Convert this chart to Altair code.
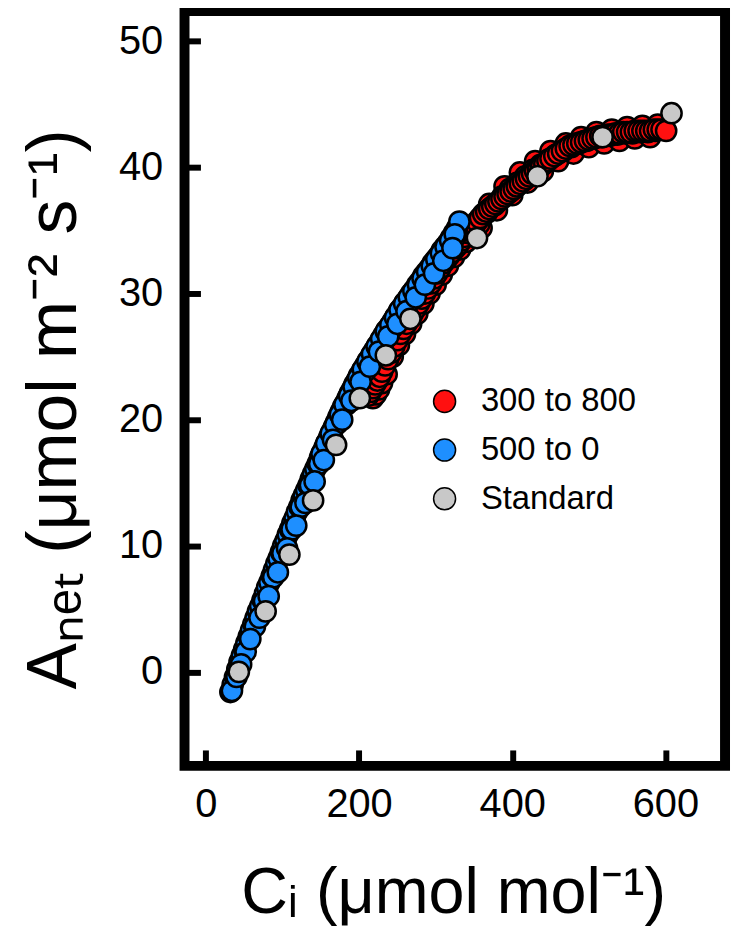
import altair as alt
import pandas as pd

# ---- data ----
series_names = ["300 to 800", "500 to 0", "Standard"]
series_colors = ["#ff1010", "#1e8fff", "#c8c8c8"]

std_ci = [43, 78, 109, 140, 170, 201, 235, 267, 354, 433, 518, 608]
std_a = [0.0, 4.8, 9.3, 13.6, 18.0, 21.7, 25.1, 28.0, 34.4, 39.3, 42.4, 44.3]

blue_ci = [32, 35, 38, 41, 44, 47, 50, 53, 56, 59, 62, 65, 68, 71, 74, 77, 80, 83, 86, 89,
           92, 95, 98, 101, 104, 107, 110, 113, 116, 119, 122, 125, 128, 131, 134, 137, 140,
           143, 146, 149, 152, 155, 158, 161, 164, 167, 170, 173, 176, 179, 182, 185, 188,
           191, 194, 197, 200, 204, 208, 212, 216, 220, 224, 228, 232, 236, 240, 244, 248,
           252, 256, 260, 264, 268, 272, 276, 280, 284, 288, 292, 296, 300, 304, 308, 312,
           316, 320, 324, 328, 331,
           34, 40, 52, 64, 76, 88, 100, 112, 124, 136, 148, 160, 172, 184, 196, 208, 220,
           232, 244, 256, 268, 280, 292, 304, 316, 326,
           151, 157, 163, 169, 175, 181, 187, 193, 199, 205, 211, 217, 223, 229, 235, 241,
           247, 253, 259, 265, 271, 277, 283, 289, 295, 301, 307, 313, 319, 325,
           46, 58, 70, 82, 94, 106, 118, 130, 142, 154, 166, 178, 190, 202, 214, 226, 238,
           250, 262, 274, 286, 298, 310, 322]
blue_a = [-1.6, -1.0, -0.4, 0.2, 0.8, 1.3, 1.8, 2.3, 2.8, 3.3, 3.8, 4.3, 4.8, 5.2, 5.7, 6.2,
          6.7, 7.1, 7.6, 8.1, 8.6, 9.0, 9.5, 10.0, 10.4, 10.9, 11.3, 11.8, 12.2, 12.7, 13.1,
          13.6, 14.0, 14.4, 14.8, 15.3, 15.7, 16.1, 16.5, 17.0, 17.4, 17.8, 18.2, 18.6, 19.0,
          19.4, 19.8, 20.2, 20.6, 21.0, 21.3, 21.7, 22.1, 22.4, 22.8, 23.1, 23.5, 23.9, 24.3,
          24.7, 25.1, 25.5, 25.9, 26.3, 26.7, 27.1, 27.4, 27.8, 28.2, 28.6, 28.9, 29.3, 29.6,
          30.0, 30.3, 30.7, 31.0, 31.4, 31.7, 32.0, 32.4, 32.7, 33.0, 33.4, 33.7, 34.0, 34.4,
          34.8, 35.2, 35.7,
          -1.5, -0.4, 1.6, 3.6, 5.6, 7.5, 9.4, 11.3, 13.1, 14.8, 16.5, 18.1, 19.7, 21.2, 22.6,
          23.8, 25.0, 26.2, 27.3, 28.4, 29.5, 30.5, 31.5, 32.5, 33.5, 34.5,
          17.3, 18.1, 18.9, 19.6, 20.4, 21.2, 21.9, 22.6, 23.3, 24.0, 24.6, 25.2, 25.8, 26.4,
          27.0, 27.5, 28.1, 28.7, 29.2, 29.7, 30.2, 30.7, 31.2, 31.7, 32.2, 32.7, 33.2, 33.7,
          34.2, 34.7,
          0.6, 2.6, 4.3, 6.0, 7.9, 9.8, 11.6, 13.4, 15.1, 16.8, 18.4, 20.0, 21.5, 23.0, 24.2,
          25.4, 26.6, 27.6, 28.6, 29.7, 30.7, 31.6, 32.6, 33.6]

red_ci = [218, 222, 226, 230, 236, 360, 380, 400, 420, 440, 460, 480, 500, 520, 540, 560, 580,
          244, 252, 260, 268, 276, 284, 292, 300, 308, 316, 324, 332, 340, 348,
          370, 390, 410, 430, 450, 470, 490, 510, 530, 550, 570, 590,
          357, 367, 377, 387, 397, 407, 417, 427, 437, 447, 457, 467, 477, 487, 497, 507, 517,
          527, 537, 547, 557, 567, 577, 587,
          212, 215, 218, 221, 224, 227, 230, 234, 238, 242, 246, 250, 254, 258, 262, 266, 270,
          274, 278, 282, 286, 290, 294, 298, 302, 306, 310, 314, 318, 322, 326, 330, 334, 338,
          342, 346, 350, 354, 358, 362, 366, 370, 374, 378, 382, 386, 390, 394, 398, 402, 406,
          410, 414, 418, 422, 426, 430, 434, 438, 442, 446, 450, 455, 460, 465, 470, 475, 480,
          485, 490, 495, 500, 505, 510, 515, 520, 525, 530, 535, 540, 545, 550, 555, 560, 565,
          570, 575, 580, 585, 590, 595, 601]
red_a = [21.7, 22.0, 22.4, 22.9, 23.6, 35.2, 36.6, 37.8, 38.8, 39.7, 40.5, 41.1, 41.6, 41.9,
         42.1, 42.3, 42.4,
         25.0, 25.9, 26.8, 27.6, 28.4, 29.2, 30.0, 30.7, 31.5, 32.2, 32.9, 33.5, 34.1, 34.7,
         37.1, 38.5, 39.6, 40.5, 41.3, 41.9, 42.4, 42.8, 43.0, 43.2, 43.3, 43.4,
         35.5, 36.4, 37.0, 37.7, 38.3, 38.8, 39.3, 39.8, 40.2, 40.6, 41.0, 41.3, 41.6, 41.9,
         42.1, 42.3, 42.4, 42.5, 42.6, 42.7, 42.7, 42.8, 42.8, 42.9,
         21.9, 22.2, 22.5, 22.8, 23.1, 23.4, 23.8, 24.3, 24.8, 25.3, 25.8, 26.3, 26.8, 27.2,
         27.6, 28.0, 28.4, 28.8, 29.2, 29.6, 30.0, 30.4, 30.8, 31.2, 31.6, 32.0, 32.4, 32.7,
         33.0, 33.3, 33.6, 33.9, 34.2, 34.5, 34.8, 35.1, 35.4, 35.7, 36.0, 36.3, 36.5, 36.7,
         36.9, 37.1, 37.3, 37.5, 37.7, 37.9, 38.1, 38.3, 38.5, 38.7, 38.9, 39.1, 39.3, 39.5,
         39.7, 39.9, 40.1, 40.3, 40.5, 40.7, 40.9, 41.1, 41.3, 41.5, 41.7, 41.8, 41.9, 42.0,
         42.1, 42.2, 42.3, 42.4, 42.5, 42.5, 42.6, 42.6, 42.7, 42.7, 42.8, 42.8, 42.8, 42.9,
         42.9, 42.9, 42.9, 42.9, 43.0, 43.0, 43.0, 42.9, 42.9]

x_ticks = [0, 200, 400, 600]
y_ticks = [0, 10, 20, 30, 40, 50]

# ---- table ----
rows = []
for c, a in zip(red_ci, red_a):
    rows.append({"ci": c, "a": a, "series": series_names[0]})
for c, a in zip(blue_ci, blue_a):
    rows.append({"ci": c, "a": a, "series": series_names[1]})
for c, a in zip(std_ci, std_a):
    rows.append({"ci": c, "a": a, "series": series_names[2]})
df = pd.DataFrame(rows)
df["order"] = range(len(df))

FONT = "Liberation Sans"
xs = alt.Scale(domain=[-27.9, 677.9], nice=False, zero=False)
ys = alt.Scale(domain=[-7.45, 52.4], nice=False, zero=False)

points = alt.Chart(df).mark_circle(
    size=415, opacity=1, stroke="black", strokeWidth=2.5
).encode(
    x=alt.X("ci:Q", scale=xs, axis=alt.Axis(
        orient="bottom", values=x_ticks, ticks=False, domain=False, grid=False,
        labelFontSize=40, labelFont=FONT, labelColor="black", labelPadding=19,
        title="Cᵢ (μmol mol⁻¹)", titleFont=FONT, titleFontSize=65,
        titleFontWeight="normal", titleColor="black", titleBaseline="alphabetic",
        titleAlign="center", titleX=270, titleY=147)),
    y=alt.Y("a:Q", scale=ys, axis=alt.Axis(
        orient="left", values=y_ticks, ticks=False, domain=False, grid=False,
        labelFontSize=40, labelFont=FONT, labelColor="black", labelPadding=22,
        title="Aₙₑₜ (μmol m⁻² s⁻¹)", titleFont=FONT, titleFontSize=70,
        titleFontWeight="normal", titleColor="black", titleAngle=270,
        titleBaseline="alphabetic", titleAlign="center", titleX=-110, titleY=400)),
    color=alt.Color("series:N", title=None,
                    scale=alt.Scale(domain=series_names, range=series_colors),
                    legend=alt.Legend(
                        orient="none", legendX=245, legendY=376, padding=0,
                        symbolType="circle", symbolSize=490, symbolStrokeColor="black",
                        symbolStrokeWidth=1.5, symbolOpacity=1,
                        labelFontSize=33, labelFont=FONT, labelColor="black",
                        labelOffset=20, labelLimit=400, rowPadding=15)),
    order=alt.Order("order:Q"),
)

tick_layer = alt.Chart(df).mark_circle(opacity=0, size=1).encode(
    x=alt.X("ci:Q", scale=xs, axis=alt.Axis(
        orient="bottom", values=x_ticks, offset=-16, tickSize=16, tickWidth=6,
        tickColor="black", labels=False, domain=False, grid=False, title="")),
    y=alt.Y("a:Q", scale=ys, axis=alt.Axis(
        orient="left", values=y_ticks, offset=-16, tickSize=16, tickWidth=6,
        tickColor="black", labels=False, domain=False, grid=False, title="")),
)

chart = alt.layer(tick_layer, points).resolve_axis(
    x="independent", y="independent"
).properties(
    width=543.5, height=759,
    padding={"left": 177.5, "top": 0.5, "right": 6, "bottom": 163},
    autosize=alt.AutoSizeParams(type="none"),
).configure_view(stroke="black", strokeWidth=10)

chart.save("out.html", embed_options={"renderer": "svg", "actions": False})
